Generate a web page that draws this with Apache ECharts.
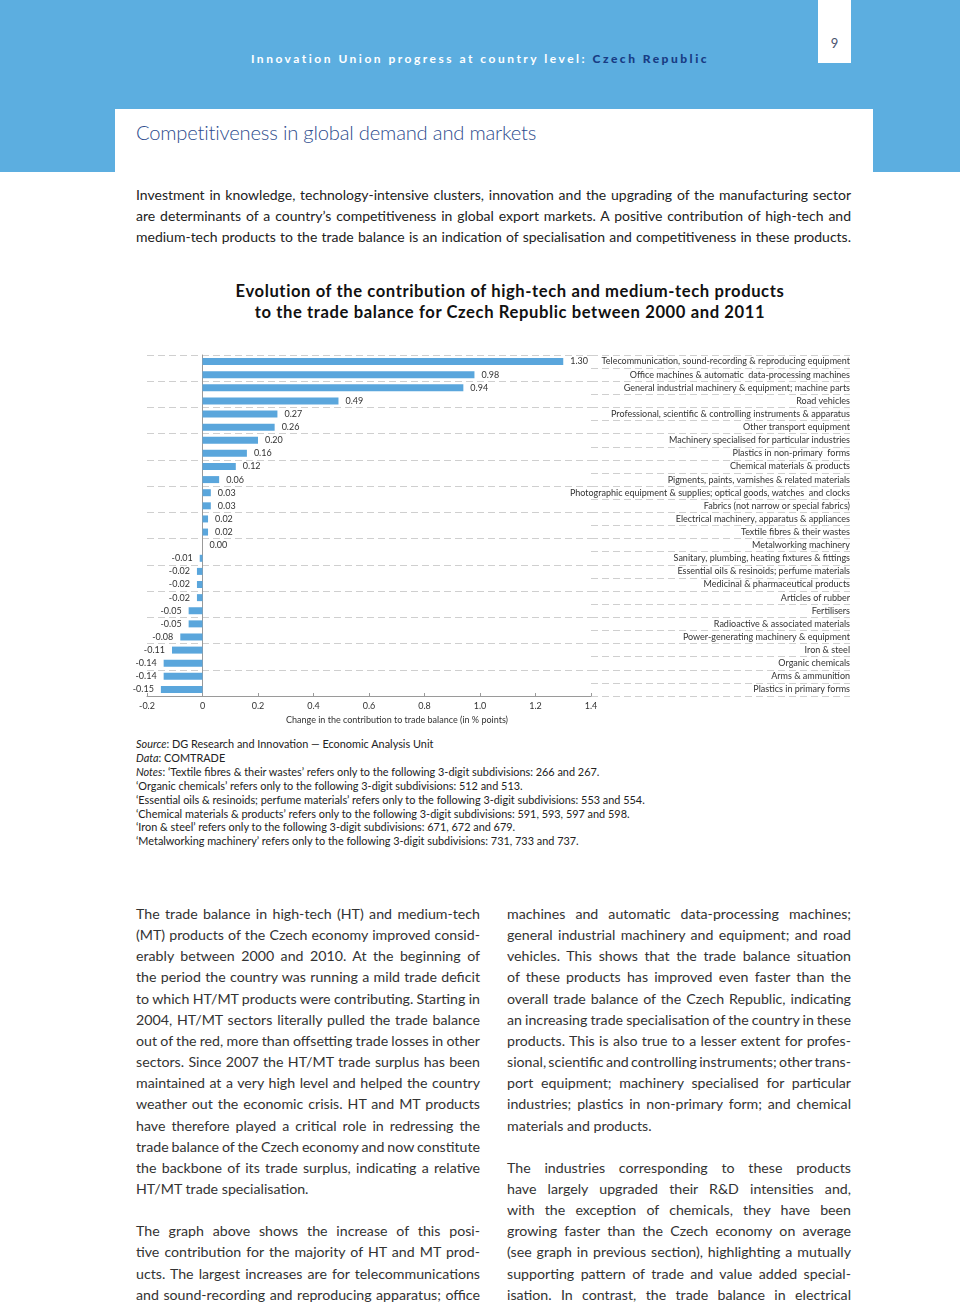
<!DOCTYPE html>
<html>
<head>
<meta charset="utf-8">
<script src="https://cdn.jsdelivr.net/npm/echarts@6/dist/echarts.min.js"></script>
<style>
  body { margin: 0; width: 960px; height: 1304px; position: relative; background: #fff; font-family: Lato, "Noto Sans", sans-serif; color: #222; overflow: hidden; }
  .abs { position: absolute; }
  #band { left: 0; top: 0; width: 960px; height: 172px; background: #5caee0; }
  #pgnum { left: 818px; top: 0; width: 33px; height: 63px; background: #fff; color: #4a5470; font-size: 13px; text-align: center; line-height: 86px; }
  #running { left: 0; width: 960px; top: 51px; text-align: center; color: #fff; font-weight: bold; font-size: 12px; letter-spacing: 2.5px; }
  #running b { color: #183c84; }
  #titlebox { left: 115px; top: 109px; width: 758px; height: 63px; background: #fff; }
  #sectitle { left: 136px; top: 120px; font-size: 20.2px; color: #2e4d8e; font-weight: 300; letter-spacing: -0.2px; }
  .line { width: 100%; text-align: justify; text-align-last: justify; }
  .col .last { text-align-last: left; word-spacing: 0; }
  #intro { left: 136px; top: 184px; width: 715px; font-size: 14px; line-height: 21px; }
  #ctitle { left: 100px; width: 820px; top: 281px; text-align: center; font-weight: bold; font-size: 16.6px; letter-spacing: 0.6px; line-height: 21px; color: #111; }
  #chart { left: 0; top: 340px; width: 960px; height: 390px; }
  #notes { left: 136px; top: 737px; font-size: 10.9px; line-height: 13.9px; color: #222; }
  .col { top: 903px; width: 344px; font-size: 14.2px; line-height: 21.15px; color: #333; word-spacing: -2.5px; }
  #colL { left: 136px; }
  #colR { left: 507px; }
  .gap { height: 21.15px; }
</style>
</head>
<body>
<div id="band" class="abs"></div>
<div id="pgnum" class="abs">9</div>
<div id="running" class="abs">Innovation Union progress at country level: <b>Czech Republic</b></div>
<div id="titlebox" class="abs"></div>
<div id="sectitle" class="abs">Competitiveness in global demand and markets</div>

<div id="intro" class="abs">
  <div class="line">Investment in knowledge, technology-intensive clusters, innovation and the upgrading of the manufacturing sector</div>
  <div class="line">are determinants of a country’s competitiveness in global export markets. A positive contribution of high-tech and</div>
  <div class="line">medium-tech products to the trade balance is an indication of specialisation and competitiveness in these products.</div>
</div>

<div id="ctitle" class="abs">Evolution of the contribution of high-tech and medium-tech products<br>to the trade balance for Czech Republic between 2000 and 2011</div>

<div id="chart" class="abs"></div>

<div id="notes" class="abs">
  <div><i>Source</i>: DG Research and Innovation — Economic Analysis Unit</div>
  <div><i>Data</i>: COMTRADE</div>
  <div><i>Notes</i>: ‘Textile fibres &amp; their wastes’ refers only to the following 3-digit subdivisions: 266 and 267.</div>
  <div>‘Organic chemicals’ refers only to the following 3-digit subdivisions: 512 and 513.</div>
  <div>‘Essential oils &amp; resinoids; perfume materials’ refers only to the following 3-digit subdivisions: 553 and 554.</div>
  <div>‘Chemical materials &amp; products’ refers only to the following 3-digit subdivisions: 591, 593, 597 and 598.</div>
  <div>‘Iron &amp; steel’ refers only to the following 3-digit subdivisions: 671, 672 and 679.</div>
  <div>‘Metalworking machinery’ refers only to the following 3-digit subdivisions: 731, 733 and 737.</div>
</div>

<div id="colL" class="abs col">
  <div class="line">The trade balance in high-tech (HT) and medium-tech</div>
  <div class="line">(MT) products of the Czech economy improved consid-</div>
  <div class="line">erably between 2000 and 2010. At the beginning of</div>
  <div class="line">the period the country was running a mild trade deficit</div>
  <div class="line">to which HT/MT products were contributing. Starting in</div>
  <div class="line">2004, HT/MT sectors literally pulled the trade balance</div>
  <div class="line">out of the red, more than offsetting trade losses in other</div>
  <div class="line">sectors. Since 2007 the HT/MT trade surplus has been</div>
  <div class="line">maintained at a very high level and helped the country</div>
  <div class="line">weather out the economic crisis. HT and MT products</div>
  <div class="line">have therefore played a critical role in redressing the</div>
  <div class="line">trade balance of the Czech economy and now constitute</div>
  <div class="line">the backbone of its trade surplus, indicating a relative</div>
  <div class="line last">HT/MT trade specialisation.</div>
  <div class="gap"></div>
  <div class="line">The graph above shows the increase of this posi-</div>
  <div class="line">tive contribution for the majority of HT and MT prod-</div>
  <div class="line">ucts. The largest increases are for telecommunications</div>
  <div class="line">and sound-recording and reproducing apparatus; office</div>
</div>

<div id="colR" class="abs col">
  <div class="line">machines and automatic data-processing machines;</div>
  <div class="line">general industrial machinery and equipment; and road</div>
  <div class="line">vehicles. This shows that the trade balance situation</div>
  <div class="line">of these products has improved even faster than the</div>
  <div class="line">overall trade balance of the Czech Republic, indicating</div>
  <div class="line">an increasing trade specialisation of the country in these</div>
  <div class="line">products. This is also true to a lesser extent for profes-</div>
  <div class="line">sional, scientific and controlling instruments; other trans-</div>
  <div class="line">port equipment; machinery specialised for particular</div>
  <div class="line">industries; plastics in non-primary form; and chemical</div>
  <div class="line last">materials and products.</div>
  <div class="gap"></div>
  <div class="line">The industries corresponding to these products</div>
  <div class="line">have largely upgraded their R&amp;D intensities and,</div>
  <div class="line">with the exception of chemicals, they have been</div>
  <div class="line">growing faster than the Czech economy on average</div>
  <div class="line">(see graph in previous section), highlighting a mutually</div>
  <div class="line">supporting pattern of trade and value added special-</div>
  <div class="line">isation. In contrast, the trade balance in electrical</div>
</div>

<script>
// product groups, top to bottom as in the figure
const products = [
  'Telecommunication, sound-recording & reproducing equipment',
  'Office machines & automatic  data-processing machines',
  'General industrial machinery & equipment; machine parts',
  'Road vehicles',
  'Professional, scientific & controlling instruments & apparatus',
  'Other transport equipment',
  'Machinery specialised for particular industries',
  'Plastics in non-primary  forms',
  'Chemical materials & products',
  'Pigments, paints, varnishes & related materials',
  'Photographic equipment & supplies; optical goods, watches  and clocks',
  'Fabrics (not narrow or special fabrics)',
  'Electrical machinery, apparatus & appliances',
  'Textile fibres & their wastes',
  'Metalworking machinery',
  'Sanitary, plumbing, heating fixtures & fittings',
  'Essential oils & resinoids; perfume materials',
  'Medicinal & pharmaceutical products',
  'Articles of rubber',
  'Fertilisers',
  'Radioactive & associated materials',
  'Power-generating machinery & equipment',
  'Iron & steel',
  'Organic chemicals',
  'Arms & ammunition',
  'Plastics in primary forms'
];

// change in contribution to trade balance, % points
const changes = [
  1.30, 0.98, 0.94, 0.49, 0.27, 0.26, 0.20, 0.16, 0.12, 0.06,
  0.03, 0.03, 0.02, 0.02, 0.00, -0.01, -0.02, -0.02, -0.02, -0.05,
  -0.05, -0.08, -0.11, -0.14, -0.14, -0.15
];

const xMin = -0.2;
const xMax = 1.4;
const xStep = 0.2;

const chart = echarts.init(document.getElementById('chart'));

const gridTop = 15;
const gridHeight = 341;

const option = {
  animation: false,
  textStyle: { fontFamily: 'Lato, "Noto Sans", sans-serif' },
  grid: [
    { left: 147, width: 444, top: gridTop, height: gridHeight },
    { left: 591, width: 259, top: gridTop, height: gridHeight }
  ],
  xAxis: [
    {
      gridIndex: 0,
      type: 'value',
      min: xMin,
      max: xMax,
      interval: xStep,
      splitLine: { show: false },
      axisLine: { show: true, lineStyle: { color: '#9a9a9a', width: 1 } },
      axisTick: { show: true, inside: true, length: 3, lineStyle: { color: '#9a9a9a' } },
      axisLabel: {
        color: '#333',
        fontSize: 9,
        margin: 6,
        formatter: v => (Math.abs(v) < 1e-9 ? '0' : v.toFixed(1))
      },
      name: 'Change in the contribution to trade balance (in % points)',
      nameLocation: 'middle',
      nameGap: 20,
      nameTextStyle: { color: '#333', fontSize: 9, padding: [0, 0, 0, 56] }
    },
    { gridIndex: 1, type: 'value', min: 0, max: 1, show: false }
  ],
  yAxis: [
    {
      gridIndex: 0,
      type: 'category',
      inverse: true,
      data: products,
      axisLine: { show: true, onZero: true, lineStyle: { color: '#9a9a9a', width: 1 } },
      axisTick: { show: false },
      axisLabel: { show: false },
      splitLine: { show: true, lineStyle: { color: '#cfcfcf', type: [7, 4], width: 1 } }
    },
    {
      gridIndex: 1,
      type: 'category',
      inverse: true,
      position: 'right',
      data: products,
      axisLine: { show: false },
      axisTick: { show: false },
      axisLabel: { color: '#333', fontSize: 9, align: 'right', margin: 0 },
      splitLine: { show: true, lineStyle: { color: '#cfcfcf', type: [7, 4], width: 1 } }
    }
  ],
  series: [
    {
      type: 'bar',
      xAxisIndex: 0,
      yAxisIndex: 0,
      barWidth: 7,
      itemStyle: { color: '#5aa6dc' },
      data: changes.map(v => ({
        value: v,
        label: { position: v < 0 ? 'left' : 'right' }
      })),
      label: {
        show: true,
        distance: 7,
        color: '#333',
        fontSize: 9,
        formatter: p => p.value.toFixed(2)
      }
    }
  ]
};

chart.setOption(option);
</script>
</body>
</html>
